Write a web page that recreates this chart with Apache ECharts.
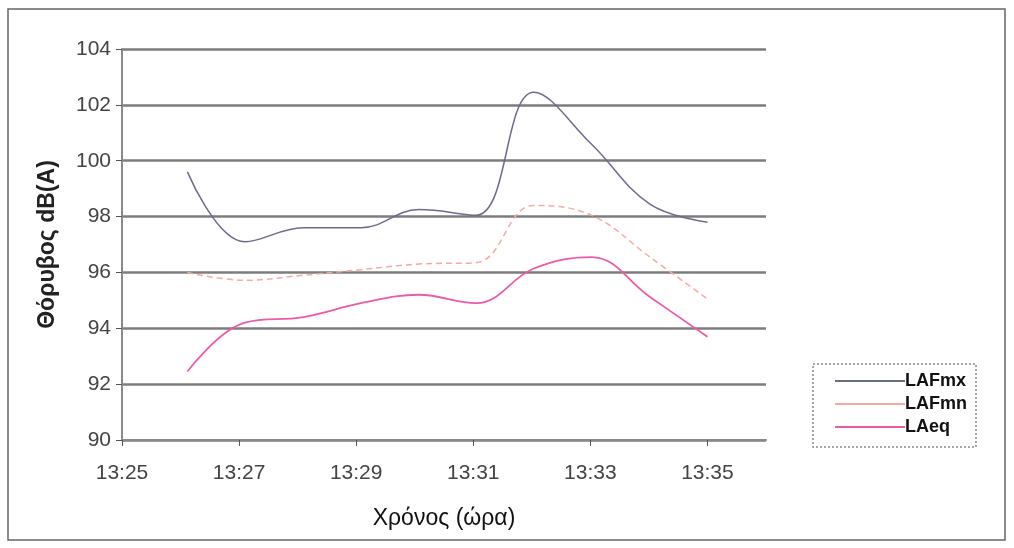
<!DOCTYPE html>
<html>
<head>
<meta charset="utf-8">
<script src="https://cdn.jsdelivr.net/npm/echarts@6/dist/echarts.min.js"></script>
<style>
  html, body { margin: 0; padding: 0; background: #fff; }
  #chart { width: 1014px; height: 548px; }
</style>
</head>
<body>
<div id="chart"></div>
<script>
// χρόνοι μέτρησης
var times = ['13:26:07', '13:27:06', '13:28:06', '13:29:05', '13:30:04',
             '13:31:03', '13:32:02', '13:33:01', '13:34:01', '13:35:00'];
var lafmx = [99.6, 97.1, 97.6, 97.6, 98.25, 98.05, 102.45, 100.6, 98.45, 97.8];
var lafmn = [96.0, 95.72, 95.9, 96.1, 96.3, 96.35, 98.4, 98.05, 96.55, 95.05];
var laeq  = [92.45, 94.2, 94.4, 94.9, 95.2, 94.9, 96.14, 96.55, 95.12, 93.7];
var seriesNames = ['LAFmx', 'LAFmn', 'LAeq'];
var yTicks = [90, 92, 94, 96, 98, 100, 102, 104];

var baseMin = 13 * 60 + 25; // 13:25 = 0

function toMin(t) {
  var p = t.split(':');
  return (+p[0]) * 60 + (+p[1]) + (+p[2]) / 60 - baseMin;
}
function pairs(vals) {
  return vals.map(function (v, i) { return [toMin(times[i]), v]; });
}

var myChart = echarts.init(document.getElementById('chart'));
var font = 'Liberation Sans, Arial, sans-serif';

var option = {
  animation: false,
  grid: { left: 122, right: 248, top: 49, bottom: 108, containLabel: false },
  xAxis: {
    type: 'value',
    min: 0, max: 11, interval: 2,
    name: 'Χρόνος (ώρα)',
    nameLocation: 'middle',
    nameGap: 67,
    nameTextStyle: { fontFamily: font, fontSize: 23, color: '#111' },
    axisLine: { lineStyle: { color: '#8a8a8a', width: 2 } },
    axisTick: { show: true, length: 6, lineStyle: { color: '#555', width: 1 } },
    axisLabel: {
      fontFamily: font, fontSize: 21, color: '#444', margin: 23,
      showMaxLabel: false,
      formatter: function (v) { return '13:' + (25 + v); }
    },
    splitLine: { show: false }
  },
  yAxis: {
    type: 'value',
    min: yTicks[0], max: yTicks[yTicks.length - 1], interval: 2,
    name: 'Θόρυβος dB(A)',
    nameLocation: 'middle',
    nameGap: 63,
    nameTextStyle: { fontFamily: font, fontSize: 23, fontWeight: 'bold', color: '#222' },
    axisLine: { show: true, lineStyle: { color: '#8a8a8a', width: 2 } },
    axisTick: { show: true, length: 6, lineStyle: { color: '#555' } },
    axisLabel: { fontFamily: font, fontSize: 21, color: '#444', margin: 11 },
    splitLine: { lineStyle: { color: '#7d7d7d', width: 2.5 } }
  },
  legend: {
    orient: 'vertical',
    left: 830, top: 367,
    itemWidth: 70, itemHeight: 20, itemGap: 5,
    icon: 'path://M0,9 L70,9 L70,11 L0,11 Z',
    textStyle: { fontFamily: font, fontSize: 18, color: '#111', fontWeight: 'bold', padding: [0, 0, 0, -5] },
    data: seriesNames
  },
  graphic: [
    { type: 'rect', shape: { x: 8, y: 9, width: 997, height: 531 },
      style: { fill: 'none', stroke: '#666', lineWidth: 1.5 }, silent: true },
    { type: 'rect', shape: { x: 813, y: 364, width: 163, height: 83 },
      style: { fill: 'none', stroke: '#888', lineWidth: 1.5, lineDash: [2, 2] }, silent: true }
  ],
  series: [
    { name: seriesNames[0], type: 'line', data: pairs(lafmx), smooth: 0.4,
      showSymbol: false, color: '#6a6c8c', lineStyle: { width: 1.5, color: '#6a6c8c' } },
    { name: seriesNames[1], type: 'line', data: pairs(lafmn), smooth: 0.4,
      showSymbol: false, color: '#f4aaa2', lineStyle: { width: 1.5, color: '#f4aaa2', type: [6, 4] } },
    { name: seriesNames[2], type: 'line', data: pairs(laeq), smooth: 0.4,
      showSymbol: false, color: '#ec5aa8', lineStyle: { width: 1.8, color: '#ec5aa8' } }
  ]
};
myChart.setOption(option);
</script>
</body>
</html>
